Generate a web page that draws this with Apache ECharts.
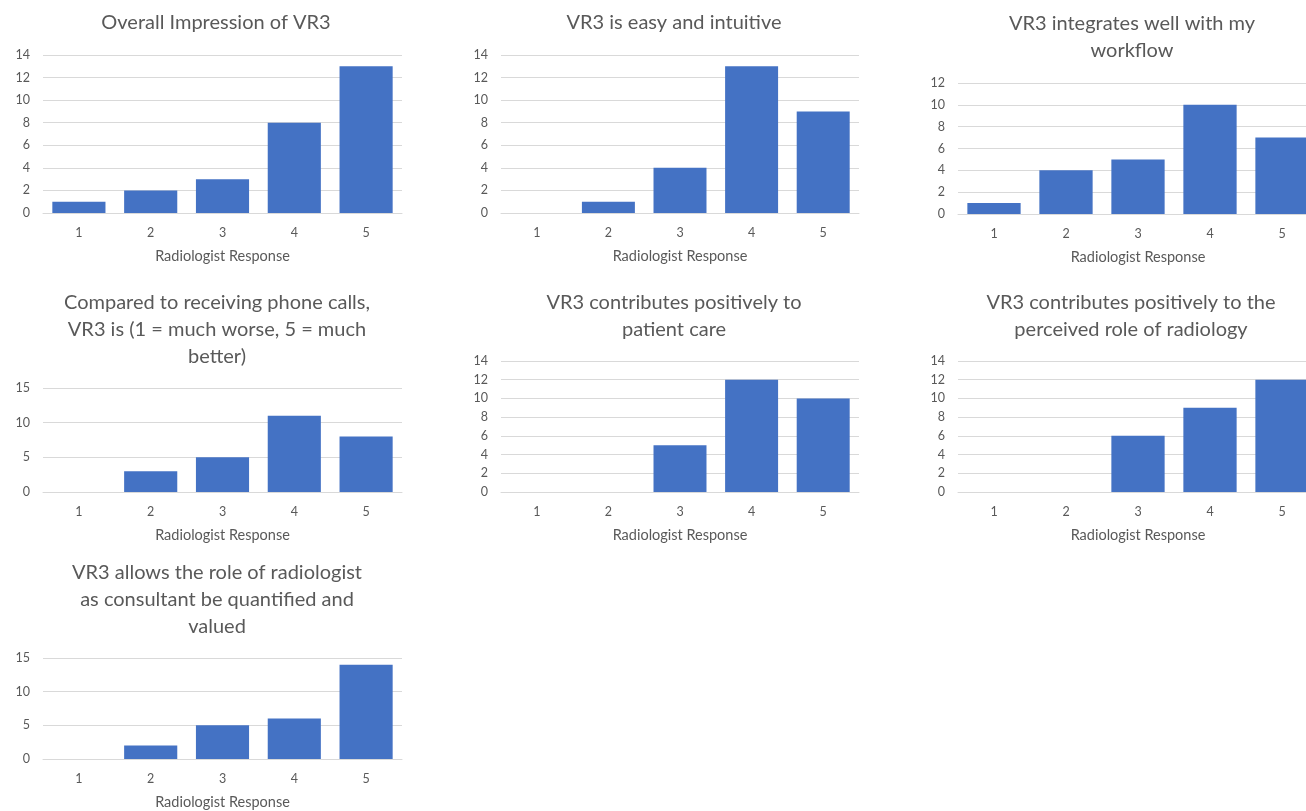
<!DOCTYPE html>
<html>
<head>
<meta charset="utf-8">
<script src="https://cdn.jsdelivr.net/npm/echarts@6/dist/echarts.min.js"></script>
<style>
html,body{margin:0;padding:0;background:#fff;overflow:hidden;width:1306px;height:811px;}
#c{width:1330px;height:811px;}
</style>
</head>
<body>
<div id="c"></div>
<script>
const categories = ['1','2','3','4','5'];
const titles = [
  'Overall Impression of VR3',
  'VR3 is easy and intuitive',
  'VR3 integrates well with my\nworkflow',
  'Compared to receiving phone calls,\nVR3 is (1 = much worse, 5 = much\nbetter)',
  'VR3 contributes positively to\npatient care',
  'VR3 contributes positively to the\nperceived role of radiology',
  'VR3 allows the role of radiologist\nas consultant be quantified and\nvalued'
];
const overall = [1, 2, 3, 8, 13];
const easy = [0, 1, 4, 13, 9];
const workflow = [1, 4, 5, 10, 7];
const phoneCalls = [0, 3, 5, 11, 8];
const patientCare = [0, 0, 5, 12, 10];
const roleRadiology = [0, 0, 6, 9, 12];
const consultant = [0, 2, 5, 6, 14];
const yMax = [14, 14, 12, 15, 14, 14, 15];
const yInterval = [2, 2, 2, 5, 2, 2, 5];
const axisName = 'Radiologist Response';

const seriesData = [overall, easy, workflow, phoneCalls, patientCare, roleRadiology, consultant];

// layout (pixels)
const grids = [
  {left: 43, top: 55, width: 359, height: 158},
  {left: 501, top: 55, width: 358, height: 158},
  {left: 958, top: 83, width: 360, height: 131},
  {left: 43, top: 388, width: 359, height: 104},
  {left: 501, top: 361, width: 358, height: 131},
  {left: 958, top: 361, width: 360, height: 131},
  {left: 43, top: 658, width: 359, height: 104}
];
const titlePos = [
  {x: 211, y: 22}, {x: 669, y: 22}, {x: 1127, y: 23},
  {x: 212, y: 302}, {x: 669, y: 302}, {x: 1126, y: 302},
  {x: 212, y: 572}
];

const FONT = 'Lato';
const TXT = '#595959';
const GRID = '#D9D9D9';

const option = {
  animation: false,
  backgroundColor: '#ffffff',
  title: titles.map((t, i) => ({
    text: t,
    left: titlePos[i].x,
    top: titlePos[i].y - 17.5,
    textAlign: 'center',
    textStyle: {fontFamily: FONT, fontSize: 20, fontWeight: 'normal', color: TXT, lineHeight: 27}
  })),
  grid: grids.map(g => Object.assign({containLabel: false}, g)),
  xAxis: grids.map((g, i) => ({
    type: 'category',
    gridIndex: i,
    data: categories,
    name: axisName,
    nameLocation: 'middle',
    nameGap: 36,
    nameTextStyle: {fontFamily: FONT, fontSize: 14.5, color: TXT},
    axisLine: {show: true, lineStyle: {color: GRID, width: 1}},
    axisTick: {show: false},
    axisLabel: {fontFamily: FONT, fontSize: 12.5, color: TXT, margin: 13},
    splitLine: {show: false}
  })),
  yAxis: grids.map((g, i) => ({
    type: 'value',
    gridIndex: i,
    min: 0,
    max: yMax[i],
    interval: yInterval[i],
    axisLine: {show: false},
    axisTick: {show: false},
    axisLabel: {fontFamily: FONT, fontSize: 12.5, color: TXT, margin: 13},
    splitLine: {show: true, lineStyle: {color: GRID, width: 1}}
  })),
  series: seriesData.map((d, i) => ({
    type: 'bar',
    xAxisIndex: i,
    yAxisIndex: i,
    data: d,
    barCategoryGap: '26%',
    itemStyle: {color: '#4472C4'}
  }))
};

const chart = echarts.init(document.getElementById('c'), null, {renderer: 'canvas'});
chart.setOption(option);
</script>
</body>
</html>
